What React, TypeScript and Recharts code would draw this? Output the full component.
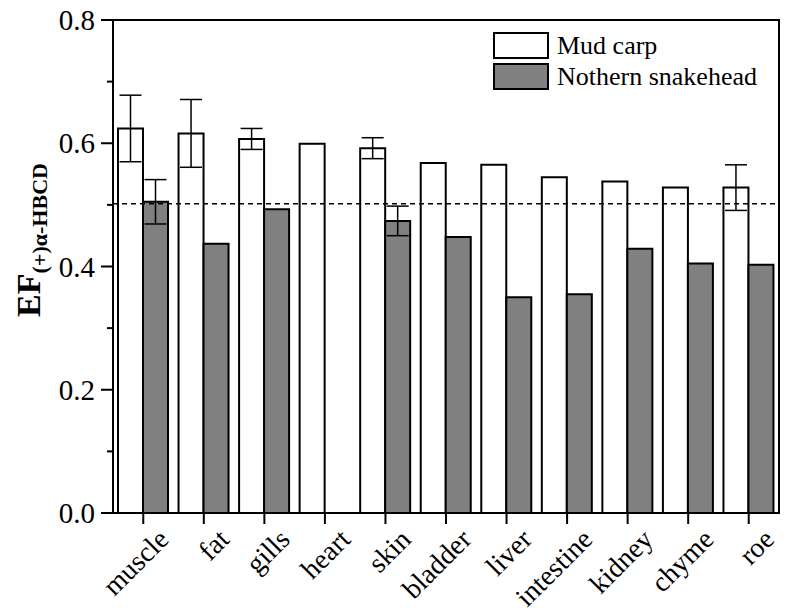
import React from 'react';
import { BarChart, Bar, XAxis, YAxis, ErrorBar, ReferenceLine, ReferenceArea, Legend, Label } from 'recharts';

const categories = ['muscle', 'fat', 'gills', 'heart', 'skin', 'bladder', 'liver', 'intestine', 'kidney', 'chyme', 'roe'];
const mudCarp = [0.624, 0.616, 0.607, 0.599, 0.592, 0.568, 0.565, 0.545, 0.538, 0.528, 0.528];
const mudCarpErr = [0.054, 0.055, 0.017, null, 0.017, null, null, null, null, null, 0.037];
const snakehead = [0.505, 0.437, 0.493, null, 0.474, 0.448, 0.350, 0.355, 0.429, 0.405, 0.403];
const snakeheadErr = [0.036, null, null, null, 0.024, null, null, null, null, null, null];
const yTicks = [0, 0.1, 0.2, 0.3, 0.4, 0.5, 0.6, 0.7, 0.8];
const majorTicks = [0, 0.2, 0.4, 0.6, 0.8];
const threshold = 0.502;

const data = categories.map((c, i) => ({
  name: c,
  mud: mudCarp[i],
  mudErr: mudCarpErr[i],
  snake: snakehead[i],
  snakeErr: snakeheadErr[i],
}));

const FONT = 'Liberation Serif';

const YTick = (props: any) => {
  const { x, y, payload } = props;
  const v = payload.value as number;
  const major = majorTicks.some((m) => Math.abs(m - v) < 1e-6);
  return (
    <g>
      <line x1={x - (major ? 12 : 6)} x2={x} y1={y} y2={y} stroke="#000" strokeWidth={2} />
      {major && (
        <text x={x - 18} y={y} dy={10} textAnchor="end" fontSize={29} fontFamily={FONT} fill="#000">
          {v.toFixed(1)}
        </text>
      )}
    </g>
  );
};

const XTick = (props: any) => {
  const { x, y, payload } = props;
  const ax = x + 27;
  const ay = y + 28;
  return (
    <g>
      <line x1={x} x2={x} y1={y} y2={y + 11} stroke="#000" strokeWidth={2} />
      <text x={ax} y={ay} transform={`rotate(-45, ${ax}, ${ay})`} textAnchor="end" fontSize={28} fontFamily={FONT} fill="#000">
        {payload.value}
      </text>
    </g>
  );
};

const YLabel = () => (
  <text x={40} y={240} transform="rotate(-90, 40, 240)" textAnchor="middle" fontFamily={FONT} fontWeight="bold" fill="#000">
    <tspan fontSize={34}>EF</tspan>
    <tspan fontSize={22} dy={7}>(+)α-HBCD</tspan>
  </text>
);

const LegendContent = () => (
  <div style={{ fontFamily: FONT, fontSize: 26, color: '#000', lineHeight: '27px' }}>
    {[
      { label: 'Mud carp', fill: '#ffffff' },
      { label: 'Nothern snakehead', fill: '#808080' },
    ].map((it, i) => (
      <div key={i} style={{ display: 'flex', alignItems: 'center', height: 27, marginBottom: i === 0 ? 4 : 0 }}>
        <div style={{ width: 52, height: 23, background: it.fill, border: '2px solid #000', marginRight: 8 }} />
        <span>{it.label}</span>
      </div>
    ))}
  </div>
);

export default function App() {
  return (
    <div style={{ position: 'absolute', left: 0, top: 0, width: 786, height: 616, background: '#fff' }}>
      <BarChart
        width={786}
        height={616}
        data={data}
        margin={{ top: 20, right: 7, bottom: 0, left: 0 }}
        barSize={25}
        barGap={0}
      >
        <XAxis dataKey="name" height={103} axisLine={false} tickLine={false} tickSize={0} tickMargin={0} tick={<XTick />} interval={0} />
        <YAxis
          width={113}
          domain={[0, 0.8]}
          ticks={yTicks}
          allowDataOverflow
          axisLine={false}
          tickLine={false}
          tickSize={0}
          tickMargin={0}
          tick={<YTick />}
          interval={0}
        >
          <Label content={<YLabel />} />
        </YAxis>
        <Legend
          layout="horizontal"
          verticalAlign="middle"
          align="center"
          content={<LegendContent />}
          wrapperStyle={{ position: 'absolute', top: 32, left: 493, width: 290, right: 'auto', bottom: 'auto' }}
        />
        <ReferenceLine y={threshold} stroke="#000" strokeWidth={1.5} strokeDasharray="5 4" />
        <Bar dataKey="mud" name="Mud carp" fill="#ffffff" stroke="#000" strokeWidth={2} isAnimationActive={false}>
          <ErrorBar dataKey="mudErr" width={11} stroke="#000" strokeWidth={1.5} />
        </Bar>
        <Bar dataKey="snake" name="Nothern snakehead" fill="#808080" stroke="#000" strokeWidth={2} isAnimationActive={false}>
          <ErrorBar dataKey="snakeErr" width={11} stroke="#000" strokeWidth={1.5} />
        </Bar>
        <ReferenceArea y1={0} y2={0.8} fill="none" fillOpacity={0} stroke="#000" strokeWidth={2} ifOverflow="visible" />
      </BarChart>
    </div>
  );
}
